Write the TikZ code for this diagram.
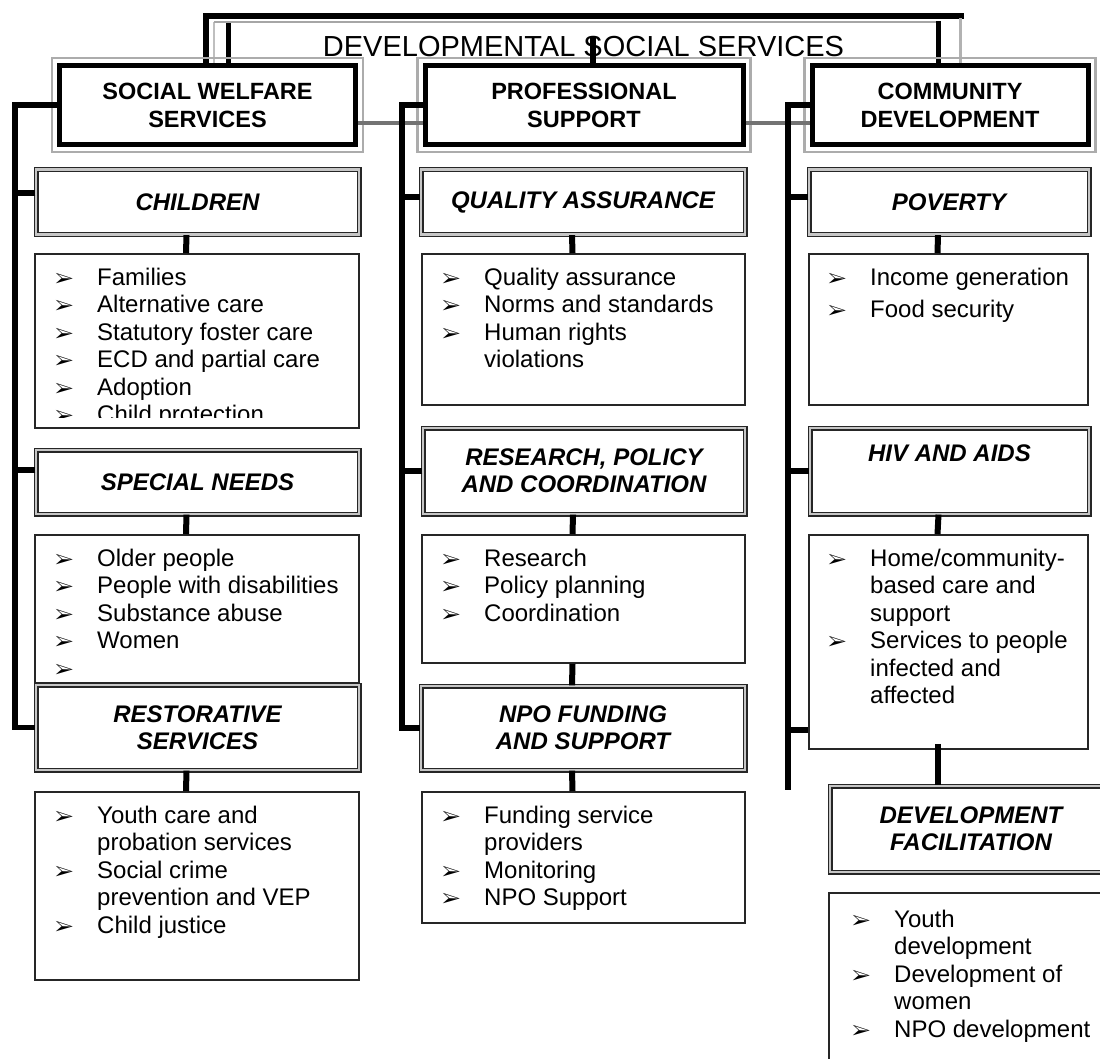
\documentclass[tikz,border=0pt]{standalone}
\usepackage{fontspec}
\setmainfont{Liberation Sans}
\usepackage{pifont}
\usepackage{tikz}

\newcommand{\bl}{\strut\makebox[42pt][l]{\fontsize{20}{20}\selectfont\ding{226}}}
\newcommand{\nb}{\strut\hspace*{42pt}}

\tikzset{
  mainbox/.style={draw, line width=5pt, fill=white, inner sep=0pt, align=center,
    minimum height=79pt, font=\fontsize{23.5}{28}\selectfont\bfseries},
  subbox/.style={draw=black!85, line width=1.2pt, double=gray!45, double distance=2.6pt,
    fill=white, inner sep=0pt, align=center, font=\fontsize{24}{27}\selectfont\bfseries\itshape},
  listbox/.style={draw=black!85, line width=1.6pt, fill=white, inner sep=0pt},
  lst/.style={inner sep=0pt, anchor=north west, align=left, font=\fontsize{24}{27.5}\selectfont},
  halo/.style={draw=gray!65, line width=2.5pt},
  trunk/.style={line width=5.5pt},
  link/.style={line width=6pt},
  hbar/.style={line width=4pt, black!55},
}

\begin{document}
\begin{tikzpicture}[x=1pt,y=-1pt]
\useasboundingbox (0,0) rectangle (1100,1059);

% title frame
\draw[line width=6pt] (206,63) -- (206,16) -- (964,16);
\draw[gray!50, line width=2pt] (214,22) -- (214,63);
\draw[gray!60, line width=3pt] (960,18) -- (960,63);
\draw[line width=5pt] (228,63) -- (228,23);
\draw[gray!70, line width=1.5pt] (214,22) -- (938,22);
\draw[line width=5pt] (938,21) -- (938,63);
\node[anchor=base, inner sep=0pt, font=\fontsize{29}{30}\selectfont] (dss) at (583.5,57) {DEVELOPMENTAL SOCIAL SERVICES};

% trunks
\coordinate (lbus) at (15,400);
\coordinate (mbus) at (402,400);
\coordinate (rend) at (788,790);

% level one
\node[mainbox, minimum width=296pt] (sws) at (207.5,105) {SOCIAL WELFARE\\SERVICES};
\node[mainbox, minimum width=318pt] (ps) at (584,105) {PROFESSIONAL\\SUPPORT};
\node[mainbox, minimum width=276pt] (cd) at (950,105) {COMMUNITY\\DEVELOPMENT};
\foreach \n in {sws,ps,cd}
  \draw[halo] ([shift={(-5,-5)}]\n.north west) rectangle ([shift={(5,5)}]\n.south east);
\draw[hbar] ([shift={(0,18)}]sws.east) -- ([shift={(0,18)}]ps.west);
\draw[hbar] ([shift={(0,18)}]ps.east) -- ([shift={(0,18)}]cd.west);
\coordinate (pstop) at ([shift={(9,0)}]ps.north);
\draw[link] (pstop) -- (pstop |- dss.north);

\draw[trunk] (sws.west) -| (lbus);
\draw[trunk] (ps.west) -| (mbus);
\draw[trunk] (cd.west) -| (rend);

% social welfare services
\node[subbox, minimum width=323pt, minimum height=65pt] (children) at (197.5,202) {CHILDREN};
\node[listbox, minimum width=324pt, minimum height=174pt] (chlist) at (197,341) {};
\begin{scope}
\clip (35,254) rectangle (359,417);
\node[lst] (chtext) at (55,266) {\bl Families\\ \bl Alternative care\\ \bl Statutory foster care\\
  \bl ECD and partial care\\ \bl Adoption\\ \bl Child protection};
\end{scope}
\node[subbox, minimum width=323pt, minimum height=64pt] (special) at (197.5,482) {SPECIAL NEEDS};
\node[listbox, minimum width=324pt, minimum height=148pt] (splist) at (197,609) {};
\node[lst] (sptext) at (55,547) {\bl Older people\\ \bl People with disabilities\\ \bl Substance abuse\\
  \bl Women\\ \bl};
\node[subbox, minimum width=323pt, minimum height=85pt] (restorative) at (197.5,727.5) {RESTORATIVE\\SERVICES};
\node[listbox, minimum width=324pt, minimum height=188pt] (rslist) at (197,886) {};
\node[lst] (rstext) at (55,804) {\bl Youth care and\\ \nb probation services\\ \bl Social crime\\
  \nb prevention and VEP\\ \bl Child justice};

% professional support
\node[subbox, minimum width=324pt, minimum height=65pt] (qa) at (583,202) {QUALITY ASSURANCE};
\node[listbox, minimum width=323pt, minimum height=151pt] (qalist) at (583.5,329.5) {};
\node[lst] (qatext) at (442,266) {\bl Quality assurance\\ \bl Norms and standards\\ \bl Human rights\\ \nb violations};
\node[subbox, minimum width=322pt, minimum height=86pt] (research) at (584,471) {RESEARCH, POLICY\\AND COORDINATION};
\node[listbox, minimum width=323pt, minimum height=128pt] (rplist) at (583.5,599) {};
\node[lst] (rptext) at (442,547) {\bl Research\\ \bl Policy planning\\ \bl Coordination};
\node[subbox, minimum width=324pt, minimum height=84pt] (npo) at (583,728) {NPO FUNDING\\AND SUPPORT};
\node[listbox, minimum width=323pt, minimum height=131pt] (nplist) at (583.5,857.5) {};
\node[lst] (nptext) at (442,804) {\bl Funding service\\ \nb providers\\ \bl Monitoring\\ \bl NPO Support};

% community development
\node[subbox, minimum width=280pt, minimum height=65pt] (poverty) at (949,202) {POVERTY};
\node[listbox, minimum width=279pt, minimum height=151pt] (pvlist) at (948.5,329.5) {};
\node[lst, font=\fontsize{24}{32}\selectfont] (pvtext) at (828,262.6) {\bl Income generation\\ \bl Food security};
\node[subbox, minimum width=279pt, minimum height=86pt] (hiv) at (949.5,471) {HIV AND AIDS\\\strut};
\node[listbox, minimum width=279pt, minimum height=214pt] (hvlist) at (948.5,642) {};
\node[lst] (hvtext) at (828,547) {\bl Home/community-\\ \nb based care and\\ \nb support\\
  \bl Services to people\\ \nb infected and\\ \nb affected};
\node[subbox, minimum width=282pt, minimum height=86pt] (devfac) at (971,829) {DEVELOPMENT\\FACILITATION};
\node[listbox, minimum width=291pt, minimum height=197pt] (dflist) at (974.5,991.5) {};
\node[lst] (dftext) at (852,908) {\bl Youth\\ \nb development\\ \bl Development of\\ \nb women\\ \bl NPO development};

% branches
\draw[trunk] (lbus) |- (restorative.west);
\draw[trunk] ([shift={(0,-9)}]children.west) -- ([shift={(0,-9)}]children.west -| lbus);
\draw[trunk] ([shift={(0,-12)}]special.west) -- ([shift={(0,-12)}]special.west -| lbus);
\draw[trunk] (mbus) |- (npo.west);
\draw[trunk] ([shift={(0,-5)}]qa.west) -- ([shift={(0,-5)}]qa.west -| mbus);
\draw[trunk] (research.west) -- (research.west -| mbus);
\draw[trunk] ([shift={(0,-5)}]poverty.west) -- ([shift={(0,-5)}]poverty.west -| rend);
\draw[trunk] (hiv.west) -- (hiv.west -| rend);
\coordinate (hvjoin) at ([shift={(0,-20)}]hvlist.south west);
\draw[trunk] (hvjoin) -- (hvjoin -| rend);

% links
\draw[link] ([shift={(-11,0)}]children.south) -- ([shift={(-11,0)}]chlist.north);
\draw[link] ([shift={(-11,0)}]special.south) -- ([shift={(-11,0)}]splist.north);
\draw[link] ([shift={(-11,0)}]restorative.south) -- ([shift={(-11,0)}]rslist.north);
\draw[link] ([shift={(-11,0)}]qa.south) -- ([shift={(-11,0)}]qalist.north);
\draw[link] ([shift={(-11,0)}]research.south) -- ([shift={(-11,0)}]rplist.north);
\draw[link] ([shift={(-11,0)}]rplist.south) -- ([shift={(-11,0)}]npo.north);
\draw[link] ([shift={(-11,0)}]npo.south) -- ([shift={(-11,0)}]nplist.north);
\draw[link] ([shift={(-11,0)}]poverty.south) -- ([shift={(-11,0)}]pvlist.north);
\draw[link] ([shift={(-11,0)}]hiv.south) -- ([shift={(-11,0)}]hvlist.north);
\coordinate (hvdrop) at ([shift={(-11,-6)}]hvlist.south);
\draw[link] (hvdrop) -- (hvdrop |- devfac.north);
\end{tikzpicture}
\end{document}
